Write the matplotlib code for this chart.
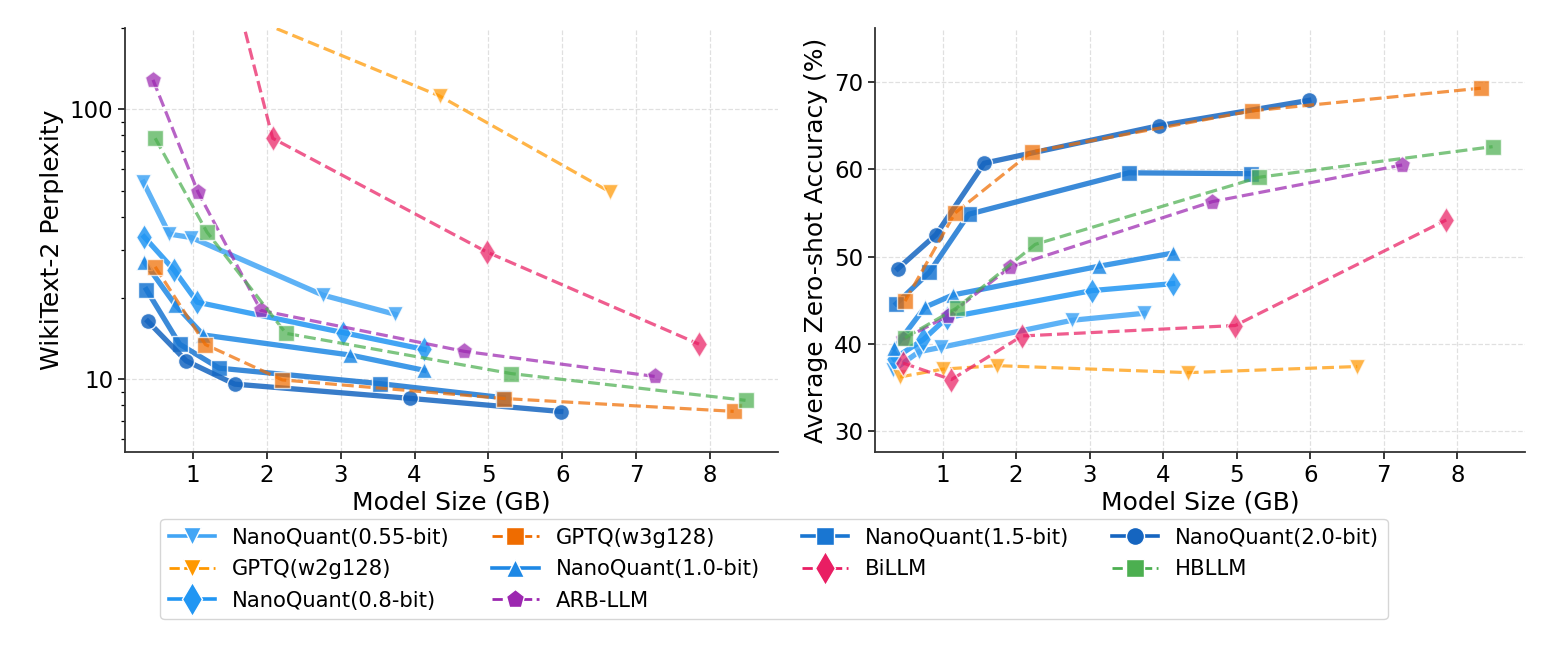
import matplotlib
matplotlib.use("Agg")
import matplotlib.pyplot as plt
from matplotlib.lines import Line2D
from matplotlib.ticker import FixedLocator, FuncFormatter, LogLocator, NullFormatter

# ---------------- data ----------------
nq055_size = [0.33, 0.68, 0.98, 2.76, 3.74]
nq055_ppl = [53.7, 34.5, 33.5, 20.5, 17.4]
nq055_acc = [37.0, 39.1, 39.6, 42.7, 43.5]

nq08_size = [0.34, 0.74, 1.06, 3.03, 4.13]
nq08_ppl = [33.7, 25.5, 19.3, 14.9, 12.9]
nq08_acc = [38.3, 40.5, 43.0, 46.1, 46.9]

nq10_size = [0.34, 0.76, 1.14, 3.13, 4.13]
nq10_ppl = [27.3, 18.9, 14.6, 12.3, 10.8]
nq10_acc = [39.5, 44.2, 45.6, 48.9, 50.4]

nq15_size = [0.37, 0.82, 1.355, 3.53, 5.2]
nq15_ppl = [21.5, 13.5, 11.0, 9.64, 8.55]
nq15_acc = [44.6, 48.2, 54.85, 59.6, 59.5]

nq20_size = [0.39, 0.91, 1.565, 3.94, 5.98]
nq20_ppl = [16.4, 11.7, 9.6, 8.5, 7.6]
nq20_acc = [48.6, 52.5, 60.7, 65.0, 67.9]

gptq3_size = [0.49, 1.17, 2.21, 5.21, 8.32]
gptq3_ppl = [26.1, 13.45, 9.95, 8.49, 7.61]
gptq3_acc = [44.9, 55.0, 62.0, 66.7, 69.3]

gptq2_size = [0.42, 1.0, 1.745, 4.34, 6.64]
gptq2_ppl = [1800, 600, 220, 112, 49.5]
gptq2_acc = [36.2, 37.1, 37.5, 36.7, 37.4]

billm_size = [0.46, 1.12, 2.08, 4.98, 7.85]
billm_ppl = [3000, 820, 78.1, 29.6, 13.5]
billm_acc = [37.8, 35.9, 40.9, 42.1, 54.2]

arb_size = [0.46, 1.07, 1.92, 4.67, 7.25]
arb_ppl = [128.5, 49.3, 18.0, 12.7, 10.25]
arb_acc = [40.5, 43.2, 48.8, 56.3, 60.5]

hb_size = [0.49, 1.19, 2.26, 5.31, 8.48]
hb_ppl = [78.1, 35.1, 14.8, 10.5, 8.36]
hb_acc = [40.7, 44.1, 51.4, 59.1, 62.6]

x_ticks = [1, 2, 3, 4, 5, 6, 7, 8]
ppl_ticks = [10, 100]
acc_ticks = [30, 40, 50, 60, 70]

# ---------------- series definitions ----------------
series = {
    "NanoQuant(0.55-bit)": (nq055_size, nq055_ppl, nq055_acc, "#42A5F5", "v", "-"),
    "NanoQuant(0.8-bit)": (nq08_size, nq08_ppl, nq08_acc, "#2196F3", "d", "-"),
    "NanoQuant(1.0-bit)": (nq10_size, nq10_ppl, nq10_acc, "#1E88E5", "^", "-"),
    "NanoQuant(1.5-bit)": (nq15_size, nq15_ppl, nq15_acc, "#1976D2", "s", "-"),
    "NanoQuant(2.0-bit)": (nq20_size, nq20_ppl, nq20_acc, "#1565C0", "o", "-"),
    "GPTQ(w2g128)": (gptq2_size, gptq2_ppl, gptq2_acc, "#FF9800", "v", "--"),
    "GPTQ(w3g128)": (gptq3_size, gptq3_ppl, gptq3_acc, "#EF6C00", "s", "--"),
    "BiLLM": (billm_size, billm_ppl, billm_acc, "#E91E63", "d", "--"),
    "ARB-LLM": (arb_size, arb_ppl, arb_acc, "#9C27B0", "p", "--"),
    "HBLLM": (hb_size, hb_ppl, hb_acc, "#4CAF50", "s", "--"),
}
plot_order = ["NanoQuant(0.55-bit)", "NanoQuant(0.8-bit)", "NanoQuant(1.0-bit)",
              "NanoQuant(1.5-bit)", "NanoQuant(2.0-bit)",
              "GPTQ(w2g128)", "GPTQ(w3g128)", "BiLLM", "ARB-LLM", "HBLLM"]
legend_order = ["NanoQuant(0.55-bit)", "GPTQ(w2g128)", "NanoQuant(0.8-bit)",
                "GPTQ(w3g128)", "NanoQuant(1.0-bit)", "ARB-LLM",
                "NanoQuant(1.5-bit)", "BiLLM", "NanoQuant(2.0-bit)", "HBLLM"]

def style(name, legend=False):
    size, ppl, acc, color, marker, ls = series[name]
    nano = ls == "-"
    if legend:
        ms = {"d": 17, "p": 14}.get(marker, 13)
        lw = 2.6 if nano else 2.0
        alpha = 1.0
    else:
        ms = {"d": 13.5, "p": 12.5}.get(marker, 11.5)
        lw = 3.8 if nano else 2.3
        alpha = 0.85 if nano else 0.72
    return dict(color=color, marker=marker, linestyle=ls, linewidth=lw,
                markersize=ms, markeredgecolor="white", markeredgewidth=1.0,
                alpha=alpha)

fig = plt.figure(figsize=(15.48, 6.45), dpi=100)
ax1 = fig.add_axes([0.0807, 0.2992, 0.4219, 0.6574])
ax2 = fig.add_axes([0.5652, 0.2992, 0.4199, 0.6574])

for name in plot_order:
    size, ppl, acc, *_ = series[name]
    st = style(name)
    ax1.plot(size, ppl, **st)
    ax2.plot(size, acc, **st)

for ax in (ax1, ax2):
    ax.spines["top"].set_visible(False)
    ax.spines["right"].set_visible(False)
    for s in ("left", "bottom"):
        ax.spines[s].set_linewidth(1.3)
        ax.spines[s].set_color("#333333")
    ax.set_xlim(0.08, 8.92)
    ax.set_xticks(x_ticks)
    ax.tick_params(axis="both", which="major", labelsize=16.5, length=5, width=1.1)
    ax.grid(True, which="major", linestyle="--", color="#cccccc", alpha=0.6, linewidth=0.9)
    ax.set_axisbelow(True)
    ax.set_xlabel("Model Size (GB)", fontsize=18, labelpad=3)

ax1.set_yscale("log")
ax1.set_ylim(5.38, 200)
ax1.yaxis.set_major_locator(FixedLocator(ppl_ticks))
ax1.yaxis.set_major_formatter(FuncFormatter(lambda v, p: f"{v:g}"))
ax1.yaxis.set_minor_locator(LogLocator(base=10, subs=range(2, 10)))
ax1.yaxis.set_minor_formatter(NullFormatter())
ax1.tick_params(axis="y", which="minor", length=3, width=0.9)
ax1.set_ylabel("WikiText-2 Perplexity", fontsize=18)

ax2.set_ylim(27.6, 76.2)
ax2.set_yticks(acc_ticks)
ax2.set_ylabel("Average Zero-shot Accuracy (%)", fontsize=18)

handles = [Line2D([], [], **style(name, legend=True)) for name in legend_order]
fig.legend(handles, legend_order, loc="upper center", bbox_to_anchor=(0.5, 0.2116),
           ncol=4, fontsize=15.2, frameon=True, fancybox=True, labelspacing=0.55,
           edgecolor="#cccccc", columnspacing=2.0, handlelength=2.2)

fig.savefig("out.png", dpi=100)
